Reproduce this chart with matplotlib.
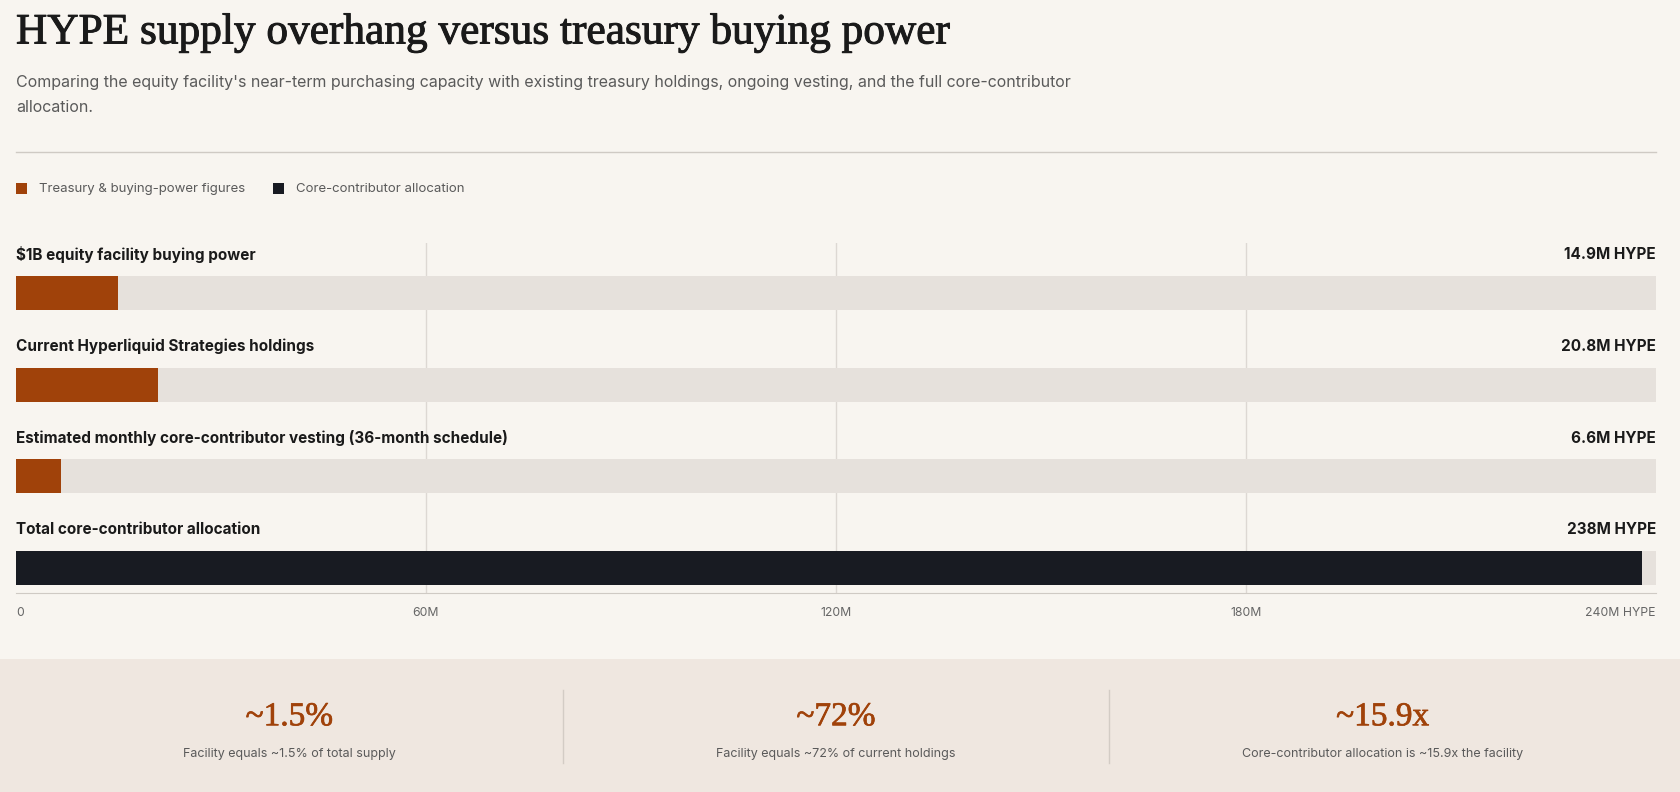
import matplotlib.pyplot as plt
import matplotlib.patheffects as pe
from matplotlib.patches import Rectangle

# data
categories = [
    "$1B equity facility buying power",
    "Current Hyperliquid Strategies holdings",
    "Estimated monthly core-contributor vesting (36-month schedule)",
    "Total core-contributor allocation",
]
values = [14.9, 20.8, 6.6, 238]          # million HYPE
value_labels = ["14.9M HYPE", "20.8M HYPE", "6.6M HYPE", "238M HYPE"]
is_core = [False, False, False, True]
tick_values = [0, 60, 120, 180, 240]
tick_labels = ["0", "60M", "120M", "180M", "240M HYPE"]
axis_max = 240

stat_values = ["~1.5%", "~72%", "~15.9x"]
stat_labels = [
    "Facility equals ~1.5% of total supply",
    "Facility equals ~72% of current holdings",
    "Core-contributor allocation is ~15.9x the facility",
]

# colours
BG = "#F8F5F0"
PANEL = "#EFE7E0"
TRACK = "#E6E1DC"
ORANGE = "#A0420A"
DARK = "#181B22"
GRID = "#DDD8D3"
TEXT = "#1A1A1A"
MUTED = "#5A5A5A"

SANS = ["Inter", "DejaVu Sans"]
SERIF = ["Liberation Serif", "DejaVu Serif"]
plt.rcParams["font.family"] = SANS

W, H = 1681, 792
fig = plt.figure(figsize=(W / 100, H / 100), dpi=100, facecolor=BG)


def fx(px):
    return px / W


def fy(px):
    return 1 - px / H


# header
fig.text(fx(16), fy(33), "HYPE supply overhang versus treasury buying power",
         family=SERIF, fontsize=31.2, color=TEXT, va="center", ha="left",
         path_effects=[pe.withStroke(linewidth=0.7, foreground=TEXT)])
fig.text(fx(16), fy(82),
         "Comparing the equity facility's near-term purchasing capacity with existing treasury holdings, "
         "ongoing vesting, and the full core-contributor",
         fontsize=11.5, color=MUTED, va="center", ha="left")
fig.text(fx(16), fy(107), "allocation.", fontsize=11.5, color=MUTED, va="center", ha="left")
fig.add_artist(plt.Line2D([fx(16), fx(1656)], [fy(152), fy(152)], color="#CFCAC4", lw=1))

# legend
for x0, col, lab in [(16, ORANGE, "Treasury & buying-power figures"),
                     (273, DARK, "Core-contributor allocation")]:
    fig.add_artist(Rectangle((fx(x0), fy(194)), fx(11), 11 / H, color=col, lw=0))
    fig.text(fx(x0 + 23), fy(189), lab, fontsize=9.5, color=MUTED, va="center", ha="left")

# bars
ax = fig.add_axes([fx(16), fy(593), fx(1640), 350 / H])
ax.set_facecolor("none")
rows = list(range(len(categories)))
bar_h = 0.371
ax.barh(rows, [axis_max] * len(rows), height=bar_h, color=TRACK, zorder=1)
ax.barh(rows, values, height=bar_h,
        color=[DARK if c else ORANGE for c in is_core], zorder=2)
for r, cat, vl in zip(rows, categories, value_labels):
    ax.text(0, r - 0.415, cat, fontsize=11, fontweight="bold", color=TEXT,
            va="center", ha="left")
    ax.text(axis_max, r - 0.415, vl, fontsize=11, fontweight="bold", color=TEXT,
            va="center", ha="right")
for t in tick_values[1:-1]:
    ax.axvline(t, color=GRID, lw=1, zorder=0)

ax.set_xlim(0, axis_max)
ax.set_ylim(3.273, -0.545)
for s in ["top", "left", "right"]:
    ax.spines[s].set_visible(False)
ax.spines["bottom"].set_color("#CFCAC4")
ax.set_yticks([])
ax.set_xticks(tick_values)
ax.set_xticklabels(tick_labels, fontsize=8.8, color="#666666")
ax.tick_params(axis="x", length=0, pad=10)
tl = ax.get_xticklabels()
tl[0].set_ha("left")
tl[-1].set_ha("right")

# bottom stats panel
fig.add_artist(Rectangle((0, 0), 1, fy(659), color=PANEL, lw=0, zorder=0))
col_w = 1640 / 3
for i, (sv, sl) in enumerate(zip(stat_values, stat_labels)):
    cx = 16 + col_w * (i + 0.5)
    fig.text(fx(cx), fy(717), sv, family=SERIF, fontsize=24, color=ORANGE,
             ha="center", va="center",
             path_effects=[pe.withStroke(linewidth=0.5, foreground=ORANGE)])
    fig.text(fx(cx), fy(754), sl, fontsize=9, color=MUTED, ha="center", va="center")
    if i > 0:
        xd = fx(16 + col_w * i)
        fig.add_artist(plt.Line2D([xd, xd], [fy(690), fy(763)], color="#D3CCC5", lw=1))

fig.savefig("out.png", dpi=100, facecolor=BG)
